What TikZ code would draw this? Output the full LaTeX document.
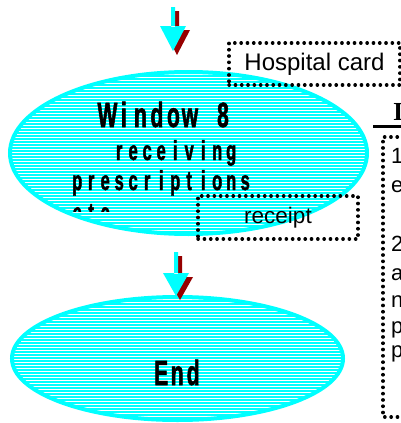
\documentclass[tikz,border=0pt]{standalone}
\usepackage{fontspec}
\setmainfont{Liberation Sans}
\newfontfamily\gothfont{Liberation Sans}[FakeStretch=0.6,FakeBold=1.5]
\newfontfamily\headserif{Liberation Serif}
\usetikzlibrary{shapes.geometric}
\definecolor{aqua}{RGB}{0,255,255}
\definecolor{shadowred}{RGB}{150,0,0}
\ExplSyntaxOn
\NewDocumentCommand\monotext{mm}{\tl_map_inline:nn{#2}{\makebox[#1]{##1}}}
\ExplSyntaxOff
\newcommand\mybarrow[5]{%
  \fill[#5] (#1-2,#2) rectangle (#1+2,#3+1)
            (#1-13,#3) -- (#1+13,#3) -- (#1,#4) -- cycle;}
\begin{document}
\begin{tikzpicture}[x=1pt,y=-1pt,
  hatch/.style={aqua, line width=1.5pt},
  ellbox/.style={ellipse, draw=aqua, line width=4pt, inner sep=0},
  dotbox/.style={draw=black, line width=3.4pt, dash pattern=on 0.3pt off 6pt, line cap=round, inner sep=0},
  bigtext/.style={inner sep=0, anchor=base west, font=\gothfont\bfseries\fontsize{35}{35}\selectfont},
  smalltext/.style={inner sep=0, anchor=base west, font=\gothfont\bfseries\fontsize{27.5}{27.5}\selectfont},
  coltext/.style={inner sep=0, anchor=base west, font=\fontsize{22}{22}\selectfont}]
\useasboundingbox (0,0) rectangle (401,423);
\clip (0,0) rectangle (401,423);
\fill[white] (0,0) rectangle (401,423);

% upper ellipse
\begin{scope}
  \clip (188.5,153) ellipse [x radius=178.5, y radius=81];
  \foreach \yy in {70,73,...,238} \draw[hatch] (0,\yy) -- (401,\yy);
\end{scope}
\node[ellbox, minimum width=357pt, minimum height=162pt] (e1) at (188.5,153) {};

% lower ellipse
\begin{scope}
  \clip (177.5,358.5) ellipse [x radius=165.5, y radius=61.5];
  \foreach \yy in {295,298,...,423} \draw[hatch] (0,\yy) -- (401,\yy);
\end{scope}
\node[ellbox, minimum width=331pt, minimum height=123pt] (e2) at (177.5,358.5) {};

% texts in upper ellipse
\node[bigtext] (t1) at (99,127) {\monotext{16.5pt}{Window~8}};
\node[smalltext] (t2) at (112,160) {\monotext{14pt}{receiving}};
\node[smalltext] (t3) at (70,190) {\monotext{14pt}{prescriptions}};
\begin{scope}
  \clip (0,195) rectangle (200,211);
  \node[smalltext] (t4) at (70,222) {\monotext{14pt}{etc.}};
\end{scope}

% End
\node[bigtext] (t5) at (153,385) {\monotext{16pt}{End}};

% dotted boxes
\node[dotbox, font=\fontsize{24}{24}\selectfont, minimum width=171pt, minimum height=42pt] (card) at (314.5,64) {Hospital card};
\node[dotbox, font=\fontsize{22.5}{22.5}\selectfont, minimum width=160pt, minimum height=43pt] (receipt) at (278,217.5) {receipt};

% right column
\node[inner sep=0, anchor=base west, font=\headserif\bfseries\fontsize{26}{26}\selectfont] (head) at (393,120) {I};
\draw[line width=3pt] (373,126.5) coordinate (ul) -- (405,126.5);
\coordinate (c1) at (410,137);
\coordinate (c2) at (383,417);
\draw[dotbox] (c1) -| (c2) -- (410,417);
\node[coltext] (r1) at (391,163) {1};
\node[coltext] (r2) at (391,192) {e};
\node[coltext] (r3) at (391,251) {2};
\node[coltext] (r4) at (391,280) {a};
\node[coltext] (r5) at (391,307) {n};
\node[coltext] (r6) at (391,333) {p};
\node[coltext] (r7) at (391,357) {p};

% block arrows
\begin{scope}[shift={(4,4)}]
  \mybarrow{173}{7}{26}{51}{shadowred}
\end{scope}
\mybarrow{173}{7}{26}{51}{aqua}
\begin{scope}[shift={(4,4)}]
  \mybarrow{176}{252}{273}{296}{shadowred}
\end{scope}
\mybarrow{176}{252}{273}{296}{aqua}
\end{tikzpicture}
\end{document}
